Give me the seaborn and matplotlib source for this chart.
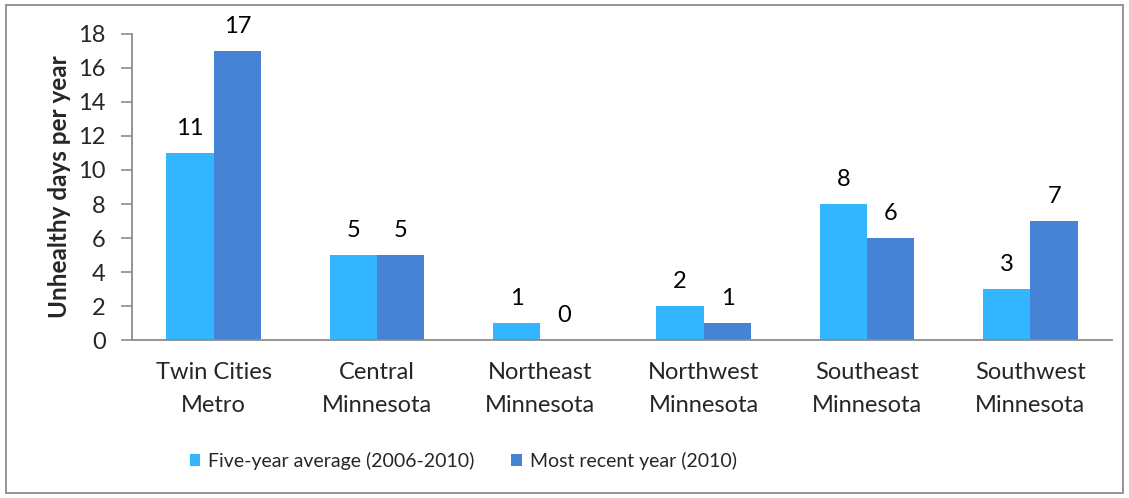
import numpy as np
import pandas as pd
import matplotlib
matplotlib.use("Agg")
import matplotlib.pyplot as plt
import seaborn as sns
from matplotlib.patches import Rectangle

regions = ["Twin Cities\nMetro", "Central\nMinnesota", "Northeast\nMinnesota",
           "Northwest\nMinnesota", "Southeast\nMinnesota", "Southwest\nMinnesota"]
five_year = [11, 5, 1, 2, 8, 3]
recent = [17, 5, 0, 1, 6, 7]
series = ["Five-year average (2006-2010)", "Most recent year (2010)"]
colors = ["#33B5FF", "#4683D4"]
yticks = [0, 2, 4, 6, 8, 10, 12, 14, 16, 18]

df = pd.DataFrame({
    "region": regions * 2,
    "days": five_year + recent,
    "series": [series[0]] * len(regions) + [series[1]] * len(regions),
})

sns.set_style("white")
plt.rcParams["font.family"] = ["Lato", "DejaVu Sans"]
fs = 17

fig = plt.figure(figsize=(11.29, 4.98), dpi=100)
ax = fig.add_axes([0.117, 0.317, 0.868, 0.615])

sns.barplot(data=df, x="region", y="days", hue="series", palette=colors,
            width=0.58, saturation=1, ax=ax, edgecolor="none")

for cont in ax.containers:
    ax.bar_label(cont, labels=[f"{v:.0f}" for v in cont.datavalues],
                 padding=10, fontsize=fs, color="#000000")

ax.set_ylim(0, 18)
ax.set_yticks(yticks)
ax.set_xlim(-0.5, len(regions) - 0.5)
ax.set_xlabel("")
ax.set_ylabel("Unhealthy days per year", fontsize=17.5, fontweight="bold", labelpad=5)

ax.set_xticks(range(len(regions)))
ax.set_xticklabels(regions, fontsize=fs, linespacing=1.7)
ax.set_xticks(np.arange(-0.5, len(regions)), minor=True)
ax.tick_params(axis="x", which="major", length=0, pad=16)
ax.tick_params(axis="x", which="minor", length=7, width=1.2, color="#8c8c8c", direction="out")
ax.tick_params(axis="y", length=8, width=1.2, color="#8c8c8c", direction="out",
               labelsize=fs, pad=11, left=True)

for side in ["top", "right"]:
    ax.spines[side].set_visible(False)
for side in ["left", "bottom"]:
    ax.spines[side].set_color("#8c8c8c")
    ax.spines[side].set_linewidth(1.3)

ax.legend(loc="center", bbox_to_anchor=(0.338, -0.395), ncol=2, frameon=False,
          fontsize=14, handlelength=0.55, handleheight=0.55, handletextpad=0.4,
          columnspacing=1.9)

fig.patches.append(Rectangle((0.005, 0.01), 0.99, 0.98, transform=fig.transFigure,
                             fill=False, edgecolor="#8c8c8c", linewidth=1.3))

fig.savefig("out.png", dpi=100)
